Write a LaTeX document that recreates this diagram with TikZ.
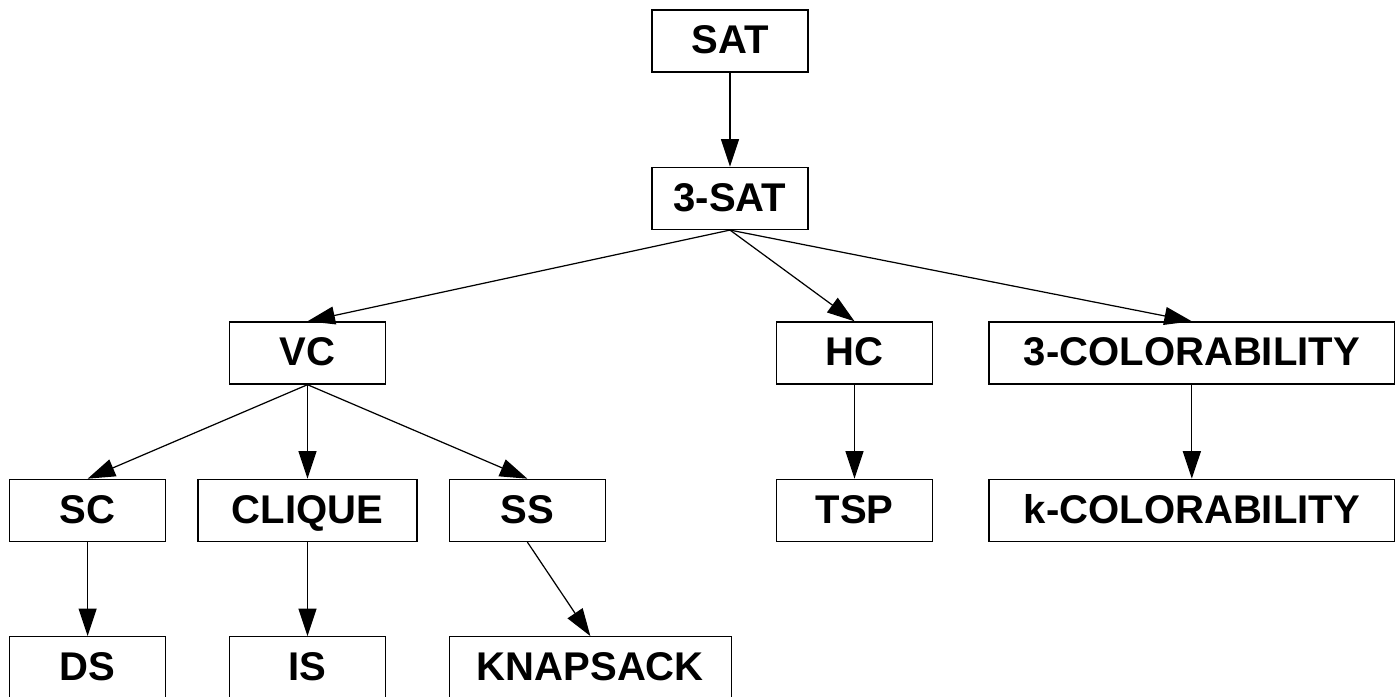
\documentclass[tikz,border=0pt]{standalone}
\usepackage{fontspec}
\setmainfont{Liberation Sans}
\usetikzlibrary{arrows.meta,positioning}
\begin{document}
\begin{tikzpicture}[x=0.02cm,y=-0.02cm,node distance=1.88cm and 0.62cm, box/.style={draw,line width=.8pt,minimum width=3.12cm,minimum height=1.24cm,inner sep=2pt,font=\fontsize{22.8}{26}\selectfont\bfseries,text height=16pt,text depth=1.5pt}, arr/.style={-{Triangle[length=0.55cm,width=0.36cm]},line width=.7pt}]
\useasboundingbox (0,0) rectangle (1395,696);
\node[box] at (730,41) (sat) {SAT};
\node[box,below=of sat] (sat3) {3-SAT};
\node[box] at (307.5,353) (vc) {VC};
\node[box] at (854.5,353) (hc) {HC};
\node[box,minimum width=8.12cm,right=1.1cm of hc] (col3) {3-COLORABILITY};
\node[box,minimum width=4.38cm,below=of vc] (clique) {CLIQUE};
\node[box,left=of clique] (sc) {SC};
\node[box,right=of clique] (ss) {SS};
\node[box,below=of hc] (tsp) {TSP};
\node[box,minimum width=8.12cm,below=of col3] (colk) {k-COLORABILITY};
\node[box,below=of sc] (ds) {DS};
\node[box,below=of clique] (is) {IS};
\node[box,minimum width=5.64cm,below=of ss.south west,anchor=north west] (knap) {KNAPSACK};
\draw[arr] (sat)--(sat3);
\draw[arr] (sat3.south)--(vc.north); \draw[arr] (sat3.south)--(hc.north); \draw[arr] (sat3.south)--(col3.north);
\draw[arr] (vc.south)--(sc.north); \draw[arr] (vc.south)--(clique.north); \draw[arr] (vc.south)--(ss.north);
\draw[arr] (hc)--(tsp); \draw[arr] (col3)--(colk);
\draw[arr] (sc)--(ds); \draw[arr] (clique)--(is); \draw[arr] (ss.south)--(knap.north);
\end{tikzpicture}
\end{document}
